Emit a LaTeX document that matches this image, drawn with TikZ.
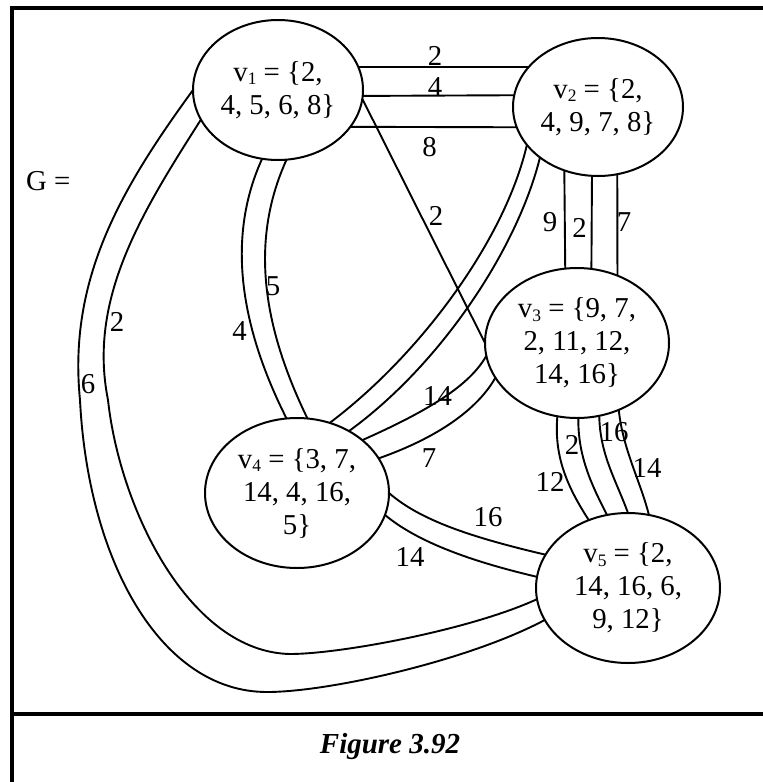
\documentclass[tikz,border=0pt]{standalone}
\usepackage{fontspec}
\setmainfont{Liberation Serif}
\usetikzlibrary{shapes.geometric}
\newcommand\vsub[1]{\raisebox{-0.12em}{\fontsize{17.5}{17.5}\selectfont #1}}
\begin{document}
\begin{tikzpicture}[x=1pt,y=1pt,
  ell/.style={draw, ellipse, line width=2pt, inner sep=0pt, outer sep=0pt},
  vtxt/.style={align=center, font=\fontsize{28.8}{33}\selectfont, inner sep=0pt},
  lbl/.style={font=\fontsize{28.8}{33}\selectfont, inner sep=0pt},
  edge/.style={line width=1.9pt},
  frame/.style={line width=3.4pt}]
\useasboundingbox (0,0) rectangle (763,-782);
% frame
\coordinate (fbl) at (12,-782);
\coordinate (ftl) at (12,-8);
\coordinate (ftr) at (763,-8);
\coordinate (fml) at (12,-714);
\coordinate (fmr) at (763,-714);
\draw[frame] (fbl) -- (ftl) -- (ftr);
\draw[frame] (fml) -- (fmr);
% vertices
\node[ell, minimum width=170pt, minimum height=140pt] (v1) at (278,-90) {};
\node[ell, minimum width=170pt, minimum height=138pt] (v2) at (598,-107) {};
\node[ell, minimum width=184pt, minimum height=150pt] (v3) at (577,-343) {};
\node[ell, minimum width=184pt, minimum height=150pt] (v4) at (297,-493) {};
\node[ell, minimum width=184pt, minimum height=150pt] (v5) at (628,-588) {};
\node[vtxt] (t1) at (v1) {v\vsub{1} = \{2,\\4, 5, 6, 8\}};
\node[vtxt] (t2) at (v2) {v\vsub{2} = \{2,\\4, 9, 7, 8\}};
\node[vtxt] (t3) at (v3) {v\vsub{3} = \{9, 7,\\2, 11, 12,\\14, 16\}};
\node[vtxt] (t4) at (v4) {v\vsub{4} = \{3, 7,\\14, 4, 16,\\5\}};
\node[vtxt] (t5) at (v5) {v\vsub{5} = \{2,\\14, 16, 6,\\9, 12\}};
% v1 -- v2
\draw[edge] (v1.16) -- (v2.150);
\draw[edge] (v1.-4) -- (v2.172.6);
\draw[edge] (v1.-27) -- (v2.-166);
% v1 -- v3
\draw[edge] (v1.-6) -- (v3.180);
% v2 -- v3
\draw[edge] (v2.-118.3) -- (v3.99.9);
\draw[edge] (v2.-95.8) -- (v3.79.3);
\draw[edge] (v2.-74.2) -- (v3.59.4);
% v1 -- v4
\draw[edge] (v1.-103) .. controls (225,-240) and (242,-330) .. (v4.98);
\draw[edge] (v1.-83) .. controls (250,-240) and (262,-325) .. (v4.82);
% v1 -- v5
\draw[edge] (v1.180) .. controls (120,-190) and (68,-280) .. (80,-400)
  .. controls (88,-560) and (160,-692) .. (267,-692)
  .. controls (330,-692) and (470,-660) .. (v5.-159.4);
\draw[edge] (v1.-159) .. controls (140,-215) and (88,-300) .. (108,-400)
  .. controls (120,-510) and (190,-652) .. (290,-654)
  .. controls (340,-654) and (470,-630) .. (v5.-173.1);
% v2 -- v4
\draw[edge] (v2.-152.5) .. controls (505,-240) and (420,-355) .. (v4.65.7);
\draw[edge] (v2.-139.6) .. controls (517,-250) and (440,-365) .. (v4.50);
% v3 -- v4
\draw[edge] (v3.-172.5) .. controls (470,-385) and (430,-410) .. (v4.39.3);
\draw[edge] (v3.-157.7) .. controls (480,-405) and (445,-435) .. (v4.23.4);
% v4 -- v5
\draw[edge] (v4.0) .. controls (420,-520) and (470,-537) .. (v5.158.2);
\draw[edge] (v4.-14) .. controls (415,-540) and (465,-560) .. (v5.173.1);
% v3 -- v5
\draw[edge] (v3.-105.3) .. controls (554,-455) and (566,-485) .. (v5.120.5);
\draw[edge] (v3.-89.2) .. controls (578,-455) and (590,-482) .. (v5.106.8);
\draw[edge] (v3.-73.9) .. controls (600,-455) and (616,-480) .. (v5.90);
\draw[edge] (v3.-58.6) .. controls (623,-450) and (640,-480) .. (v5.74.7);
% labels
\node[lbl] (a1) at (435,-56) {2};
\node[lbl] (a2) at (435,-87) {4};
\node[lbl] (a3) at (429.5,-147) {8};
\node[lbl] (a4) at (436,-216) {2};
\node[lbl] (a5) at (550,-222) {9};
\node[lbl] (a6) at (579.5,-228) {2};
\node[lbl] (a7) at (624,-222) {7};
\node[lbl] (a8) at (273,-286) {5};
\node[lbl] (a9) at (239.5,-331) {4};
\node[lbl] (a10) at (117,-322) {2};
\node[lbl] (a11) at (88,-384) {6};
\node[lbl] (a12) at (437.5,-395.5) {14};
\node[lbl] (a13) at (429,-458.5) {7};
\node[lbl] (a14) at (488,-517.5) {16};
\node[lbl] (a15) at (410,-557) {14};
\node[lbl] (a16) at (572,-444.5) {2};
\node[lbl] (a17) at (614,-432.5) {16};
\node[lbl] (a18) at (550,-482) {12};
\node[lbl] (a19) at (647,-467.5) {14};
\node[lbl, anchor=west] (G) at (26,-181) {G =};
\node[font=\fontsize{29}{34}\selectfont\bfseries\itshape, anchor=base, inner sep=0pt] (cap) at (390,-753) {Figure 3.92};
\end{tikzpicture}
\end{document}
